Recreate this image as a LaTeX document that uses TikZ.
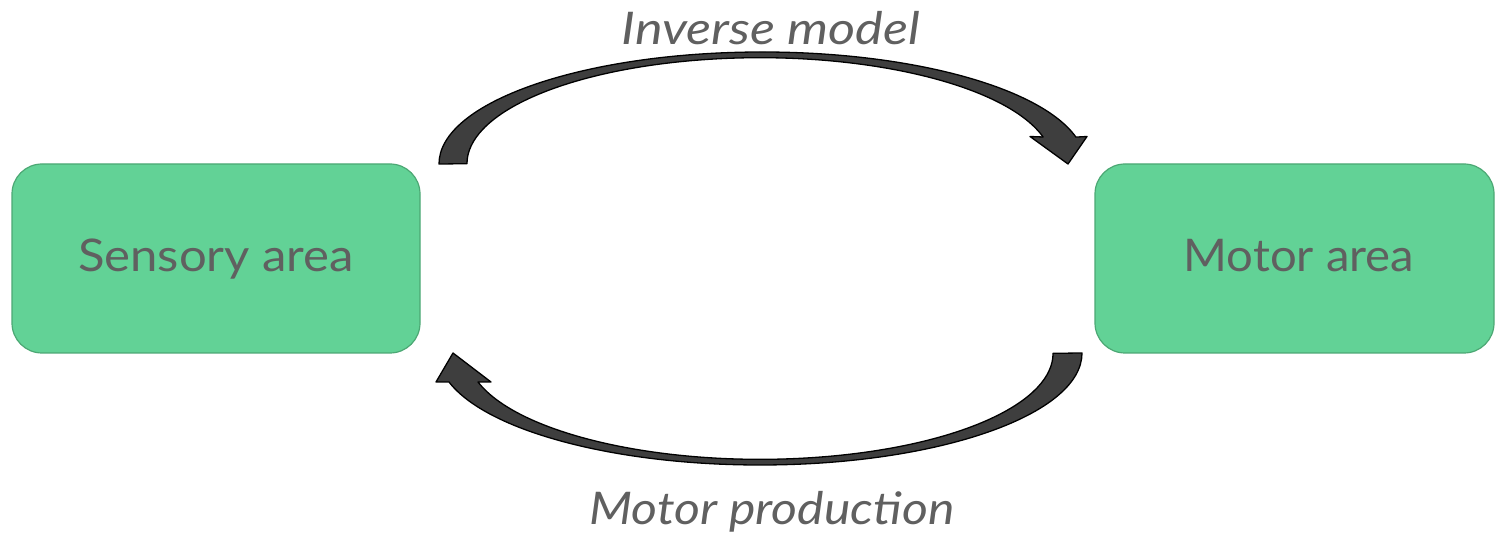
\documentclass[tikz,border=0pt]{standalone}
\usepackage{fontspec}
\setmainfont{Lato}
\usepackage{graphicx}
\definecolor{boxfill}{HTML}{62D296}
\definecolor{boxline}{HTML}{4CA874}
\definecolor{txt}{HTML}{606060}
\definecolor{arrowfill}{HTML}{3E3E3E}
\newcommand{\widetext}[2]{\scalebox{#1}[1]{#2}}
\tikzset{
  areabox/.style={draw=boxline, line width=1.2pt, fill=boxfill, rounded corners=30pt},
  areatext/.style={anchor=base, text=txt, font=\fontsize{45}{52}\selectfont, inner sep=0pt},
  labeltext/.style={anchor=base, text=txt, font=\fontsize{45}{52}\selectfont\itshape, inner sep=0pt},
  blockarrow/.style={draw=black, line width=1.3pt, fill=arrowfill, line join=round}
}
\begin{document}
\begin{tikzpicture}[x=1pt,y=1pt]
\useasboundingbox (0,0) rectangle (1499,535);
% boxes
\draw[areabox] (12,182) rectangle (420,371);
\draw[areabox] (1095,182) rectangle (1494,371);
\node[areatext] (sens) at (216,263) {\widetext{1.09}{Sensory area}};
\node[areatext] (mot) at (1299,263) {\widetext{1.05}{Motor area}};
% top arrow (Inverse model)
\draw[blockarrow] (439,371)
  arc[start angle=180, end angle=13.9, x radius=323.2, y radius=112]
  -- (1087,398.5) -- (1068,371) -- (1030,398.5) -- (1043.1,398)
  arc[start angle=14.6, end angle=180, x radius=292.8, y radius=106]
  -- cycle;
% bottom arrow (Motor production)
\draw[blockarrow] (1082,182)
  arc[start angle=0, end angle=-165, x radius=322, y radius=112]
  -- (436,153) -- (453,182) -- (491,153) -- (478,153)
  arc[start angle=-164.3, end angle=0, x radius=293, y radius=106]
  -- cycle;
% labels
\node[labeltext] (inv) at (771,490) {\widetext{1.16}{Inverse model}};
\node[labeltext] (prod) at (772,10) {\widetext{1.11}{Motor production}};
\end{tikzpicture}
\end{document}
